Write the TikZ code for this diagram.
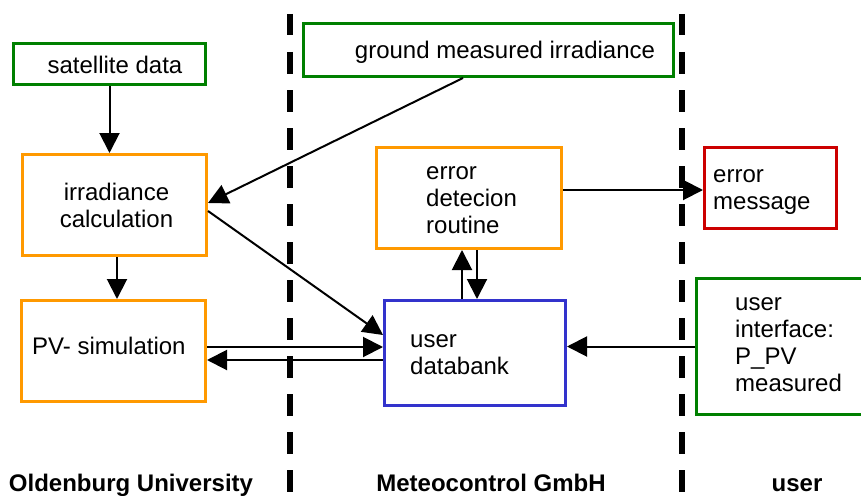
\documentclass[tikz,border=0pt]{standalone}
\usepackage{fontspec}
\setmainfont{Liberation Sans}
\usetikzlibrary{arrows.meta}
\definecolor{boxgreen}{RGB}{0,128,0}
\definecolor{boxorange}{RGB}{255,153,0}
\definecolor{boxred}{RGB}{204,0,0}
\definecolor{boxblue}{RGB}{51,51,204}
\begin{document}
\begin{tikzpicture}[x=1pt,y=-1pt,
  box/.style={draw,line width=3pt,inner sep=0pt,rectangle},
  txt/.style={inner sep=0pt,font=\fontsize{24}{27}\selectfont},
  lbl/.style={inner sep=0pt,font=\fontsize{24}{27}\selectfont\bfseries,anchor=base},
  arr/.style={line width=2pt,-{Triangle[length=20pt,width=20pt]}},
  divider/.style={line width=6.5pt,dash pattern=on 21.5pt off 16.5pt}]
\clip (0,0) rectangle (861,495);
% dividers
\coordinate (d1t) at (290,14);
\coordinate (d1b) at (290,500);
\coordinate (d2t) at (682,14);
\coordinate (d2b) at (682,500);
\draw[divider] (d1t) -- (d1b);
\draw[divider] (d2t) -- (d2b);
% boxes
\node[box,draw=boxgreen,minimum width=192pt,minimum height=41pt] (sat) at (109.5,64) {};
\node[box,draw=boxgreen,minimum width=370pt,minimum height=53pt] (ground) at (488.5,50) {};
\node[box,draw=boxorange,minimum width=184pt,minimum height=101pt] (irr) at (114.5,205) {};
\node[box,draw=boxorange,minimum width=184pt,minimum height=101pt] (pv) at (113.5,351) {};
\node[box,draw=boxorange,minimum width=185pt,minimum height=101pt] (err) at (469,198) {};
\node[box,draw=boxred,minimum width=132pt,minimum height=81pt] (msg) at (770.5,188) {};
\node[box,draw=boxblue,minimum width=181pt,minimum height=105pt] (db) at (475,353) {};
\node[box,draw=boxgreen,minimum width=202pt,minimum height=136pt] (ui) at (797.5,346.5) {};
% texts
\node[txt,anchor=base] (tsat) at (115,73) {satellite data};
\node[txt,anchor=base] (tground) at (505,59) {ground measured irradiance};
\node[txt,anchor=base] (tirr) at (116.5,200) {\begin{tabular}[t]{@{}c@{}}irradiance\\calculation\end{tabular}};
\node[txt,anchor=base west] (tpv) at (32,354) {PV- simulation};
\node[txt,anchor=base west] (terr) at (426,179) {\begin{tabular}[t]{@{}l@{}}error\\detecion\\routine\end{tabular}};
\node[txt,anchor=base west] (tmsg) at (713,182) {\begin{tabular}[t]{@{}l@{}}error\\message\end{tabular}};
\node[txt,anchor=base west] (tdb) at (410,347) {\begin{tabular}[t]{@{}l@{}}user\\databank\end{tabular}};
\node[txt,anchor=base west] (tui) at (735,310) {\begin{tabular}[t]{@{}l@{}}user\\interface:\\P\_PV\\measured\end{tabular}};
\node[lbl] (l1) at (131,491) {Oldenburg University};
\node[lbl] (l2) at (491,491) {Meteocontrol GmbH};
\node[lbl] (l3) at (797,491) {user};
% connectors
\draw[arr] (sat.south) -- (sat.south |- irr.north);
\draw[arr] ([xshift=-25.5pt]ground.south) -- ([yshift=2pt]irr.east);
\draw[arr] ([yshift=-6pt]irr.east) -- ([yshift=18pt]db.west);
\draw[arr] ([xshift=2.5pt]irr.south) -- ([xshift=2.5pt]irr.south |- pv.north);
\draw[arr] ([yshift=4pt]pv.east) -- ([yshift=4pt]pv.east -| db.west);
\draw[arr] ([yshift=-9pt]pv.east -| db.west) -- ([yshift=-9pt]pv.east);
\draw[arr] ([xshift=-13pt]db.north) -- ([xshift=-13pt]db.north |- err.south);
\draw[arr] ([xshift=2pt]db.north |- err.south) -- ([xshift=2pt]db.north);
\draw[arr] ([yshift=8pt]err.east) -- ([yshift=8pt]err.east -| msg.west);
\draw[arr] (ui.west) -- (ui.west -| db.east);
\end{tikzpicture}
\end{document}
